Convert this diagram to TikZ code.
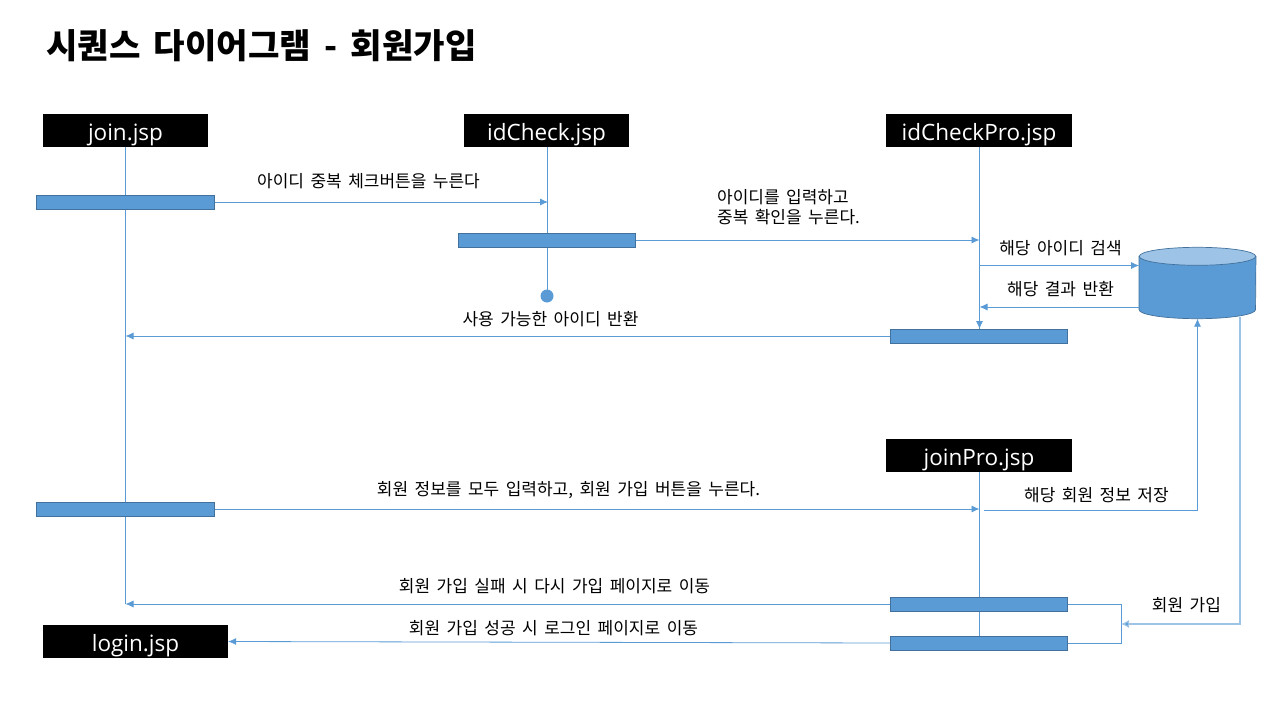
\documentclass[tikz,border=0pt]{standalone}
\usepackage{fontspec}
\setmainfont{Noto Sans CJK KR}
\newfontfamily\headfont{Open Sans}
\newfontfamily\lblfont[WordSpace=1.6]{Noto Sans CJK KR}
\newfontfamily\titlefont[WordSpace=1.7]{Noto Sans CJK KR}
\usetikzlibrary{arrows.meta,shapes.geometric}
\definecolor{barblue}{HTML}{5B9BD5}
\definecolor{baredge}{HTML}{41719C}
\definecolor{dbtop}{HTML}{9DC3E6}

\begin{document}
\begin{tikzpicture}[
    x=1pt,
    y=-1pt,
    head/.style={fill=black,text=white,inner sep=0pt,minimum height=33pt,text height=24pt,text depth=5pt,font=\headfont\fontsize{22.5}{24}\selectfont},
    bar/.style={draw=baredge,fill=barblue,line width=0.7pt,inner sep=0pt,minimum width=177.5pt,minimum height=14pt},
    life/.style={draw=barblue,line width=0.8pt},
    msg/.style={draw=barblue,line width=0.8pt,-{Latex[length=8pt,width=7pt]}},
    dbmsg/.style={draw=dbtop,line width=1.2pt,-{Latex[length=8pt,width=8pt,fill=barblue]}},
    lbl/.style={inner sep=0pt,align=center,font=\lblfont\fontsize{17}{20}\selectfont}
]
\useasboundingbox (0,0) rectangle (1280,720);

\node[anchor=west,inner sep=0pt,font=\titlefont\fontsize{34.2}{36}\selectfont\bfseries] (title) at (46,46) {시퀀스 다이어그램 - 회원가입};

% lifeline heads
\node[head,minimum width=165pt] (join) at (125.5,130.5) {join.jsp};
\node[head,minimum width=165pt] (idCheck) at (546.5,130.5) {idCheck.jsp};
\node[head,minimum width=186pt] (idCheckPro) at (979,130.5) {idCheckPro.jsp};
\node[head,minimum width=186pt] (joinPro) at (979,455.5) {joinPro.jsp};
\node[head,minimum width=185pt] (login) at (135.5,641.5) {login.jsp};

% database
\node[inner sep=0pt,minimum width=116.5pt,minimum height=71pt] (db) at (1197.5,283) {};
\draw[draw=baredge,fill=barblue,line width=0.7pt] ([yshift=-9pt]db.north west) -- ([yshift=9pt]db.south west)
    arc[start angle=180,end angle=0,x radius=58.25,y radius=9] -- ([yshift=-9pt]db.north east) -- cycle;
\node[draw=baredge,fill=dbtop,line width=0.7pt,ellipse,inner sep=0pt,minimum width=116.5pt,minimum height=18pt] (dbTop) at ([yshift=-9pt]db.north) {};

% end points
\coordinate (joinEnd) at (125.5,604);
\coordinate (checkEnd) at (547,296);
\coordinate (proEnd) at (979.5,329);
\coordinate (joinProEnd) at (979.5,636);
\coordinate (merge) at (1121,624);
\coordinate (saveStart) at (984,510);

% lifelines
\draw[life] (join) -- (joinEnd);
\draw[life] (idCheck.south -| checkEnd) -- (checkEnd);
\draw[life] (idCheckPro.south -| proEnd) -- (proEnd);
\draw[life] (joinPro.south -| joinProEnd) -- (joinProEnd);

\node[circle,fill=barblue,inner sep=0pt,minimum size=13pt] (checkDot) at (checkEnd) {};

% activation bars
\node[bar] (joinBarA) at (125.5,202) {};
\node[bar] (checkBar) at (547,240) {};
\node[bar] (proBarA) at (979,336) {};
\node[bar] (joinBarB) at (125.5,509) {};
\node[bar] (proBarB) at (979,604) {};
\node[bar] (proBarC) at (979,643) {};

% messages
\draw[msg] (joinBarA.east) -- ([xshift=1pt]joinBarA.east -| checkEnd);
\draw[msg] (checkBar.east) -- (checkBar.east -| proEnd);
\draw[msg] (proEnd |- 0,265.5) -- (db.west |- 0,265.5);
\draw[msg] (db.west |- 0,307) -- (proEnd |- 0,307);
\draw[msg] (proEnd) ++(0,-10) -- (proEnd);
\draw[msg] (proBarA.west) -- (proBarA.west -| joinEnd);
\draw[msg] (joinBarB.east) -- (joinBarB.east -| joinProEnd);
\draw[msg] (saveStart) -- (db.south |- saveStart) -- (db.south);
\draw[msg] (proBarB.west) -- (joinEnd);
\draw[msg] (proBarC.west) -- (login.east);
\draw[draw=barblue,line width=0.8pt] (proBarB.east) -- (merge |- proBarB.east) -- (merge |- proBarC.east) -- (proBarC.east);
\draw[dbmsg] (1240,317) -- (1240,624) -- (merge);

% labels
\node[lbl] (lblCheck) at (368.5,181) {아이디 중복 체크버튼을 누른다};
\node[lbl,align=left] (lblInput) at (788.5,207) {아이디를 입력하고\\중복 확인을 누른다.};
\node[lbl] (lblSearch) at (1060.5,248) {해당 아이디 검색};
\node[lbl] (lblResult) at (1060.5,289) {해당 결과 반환};
\node[lbl] (lblUsable) at (550.5,319.5) {사용 가능한 아이디 반환};
\node[lbl] (lblSubmit) at (568.5,490.5) {회원 정보를 모두 입력하고, 회원 가입 버튼을 누른다.};
\node[lbl] (lblSave) at (1096.5,495) {해당 회원 정보 저장};
\node[lbl] (lblFail) at (554.5,586) {회원 가입 실패 시 다시 가입 페이지로 이동};
\node[lbl] (lblOk) at (553.5,628) {회원 가입 성공 시 로그인 페이지로 이동};
\node[lbl] (lblJoin) at (1186.5,605) {회원 가입};

\end{tikzpicture}
\end{document}
